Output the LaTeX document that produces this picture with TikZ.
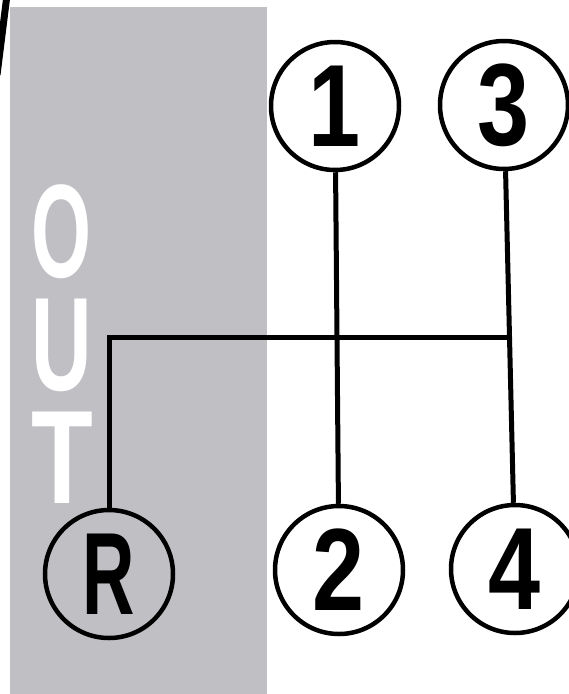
\documentclass[tikz,border=0pt]{standalone}
\usepackage{fontspec}
\setmainfont{Liberation Sans}
\usetikzlibrary{calc}
\definecolor{panelgray}{RGB}{192,191,196}
\begin{document}
\begin{tikzpicture}[x=1pt,y=-1pt,
  gear/.style={circle,draw=black,line width=4.5pt,minimum size=128pt,inner sep=0pt,
    font=\fontsize{117}{120}\selectfont\bfseries},
  rod/.style={line width=5pt,draw=black,line join=miter},
  outletter/.style={text=white,inner sep=0pt,align=center,
    font=\fontsize{133}{113}\selectfont\bfseries}]
\useasboundingbox (0,0) rectangle (569,694);
\fill[panelgray] (10,7) rectangle (267,694);
\begin{scope}
  \clip (0,0) rectangle (569,694);
  \draw[line width=7pt] (7,-5) -- (-3,75);
\end{scope}
% OUT letters, stacked
\node[outletter] (out) at (62,344)
  {\scalebox{0.58}[1]{O}\\\scalebox{0.63}[1]{U}\\\scalebox{0.76}[1]{T}};
% gear circles
\node[gear] (g1) at (335,106) {\scalebox{0.8}[1]{1}};
\node[gear] (g3) at (504,105) {\scalebox{0.8}[1]{3}};
\node[gear] (gR) at (109,574) {\scalebox{0.62}[1]{R}};
\node[gear] (g2) at (339,570) {\scalebox{0.8}[1]{2}};
\node[gear] (g4) at (515,569) {\scalebox{0.8}[1]{4}};
% connectors
\coordinate (j) at ($(g3)!0.5!(g4)$);
\draw[rod] (g1) -- (g2);
\draw[rod] (g3) -- (g4);
\draw[rod] (gR) |- (j);
\end{tikzpicture}
\end{document}
